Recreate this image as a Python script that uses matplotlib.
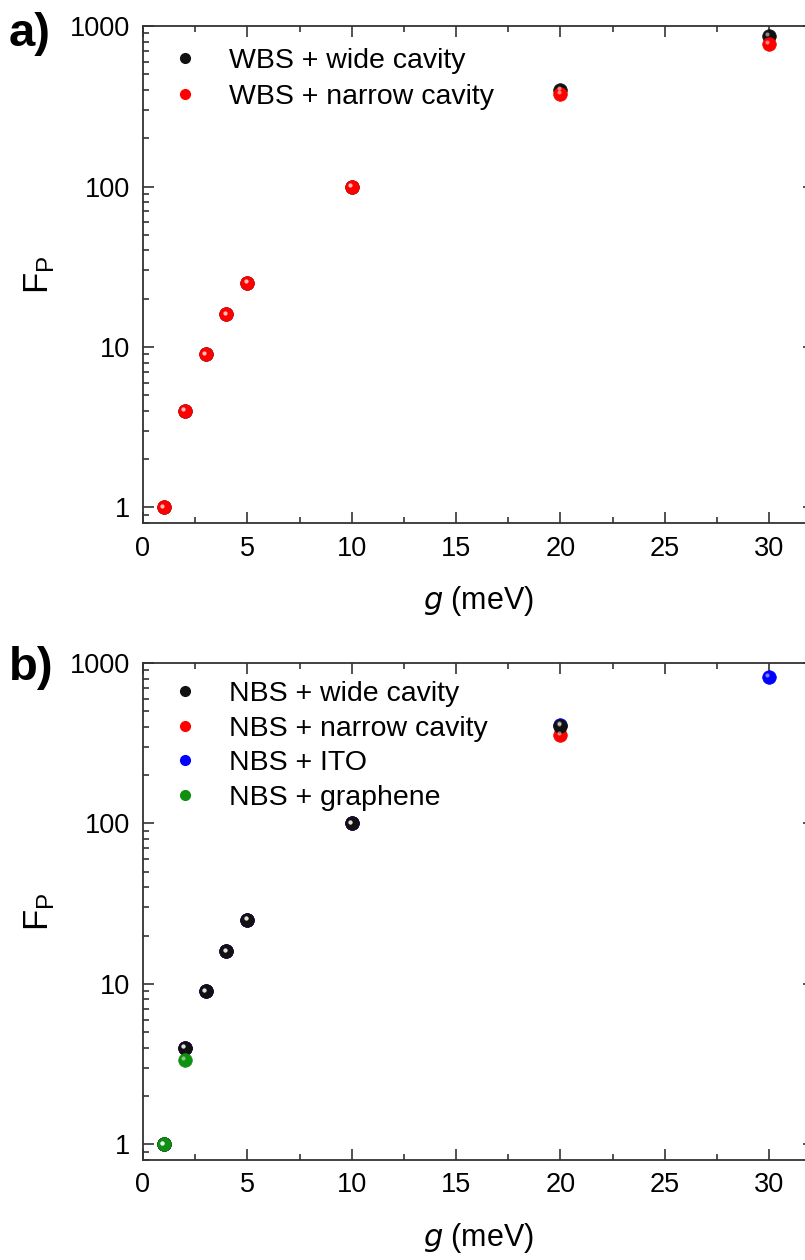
import matplotlib
matplotlib.use("Agg")
import matplotlib.pyplot as plt
import matplotlib.transforms as mtransforms
from matplotlib.ticker import FixedLocator, LogLocator, NullFormatter, MultipleLocator
from matplotlib.lines import Line2D

plt.rcParams["font.family"] = ["Liberation Sans", "DejaVu Sans"]

# panel a: WBS
g_a_wide = [1, 2, 3, 4, 5, 10, 20, 30]
fp_a_wide = [1, 4, 9, 16, 25, 100, 400, 870]
g_a_narrow = [1, 2, 3, 4, 5, 10, 20, 30]
fp_a_narrow = [1, 4, 9, 16, 25, 100, 378, 773]

# panel b: NBS
g_b_wide = [1, 2, 3, 4, 5, 10, 20]
fp_b_wide = [1, 4, 9, 16, 25, 100, 405]
g_b_narrow = [1, 2, 3, 4, 5, 10, 20]
fp_b_narrow = [1, 4, 9, 16, 25, 100, 358]
g_b_ito = [1, 2, 3, 4, 5, 10, 20, 30]
fp_b_ito = [1, 4, 9, 16, 25, 100, 412, 819]
g_b_graphene = [1, 2]
fp_b_graphene = [1, 3.36]

labels_a = ["WBS + wide cavity", "WBS + narrow cavity"]
labels_b = ["NBS + wide cavity", "NBS + narrow cavity", "NBS + ITO", "NBS + graphene"]
ytick_vals = [1, 10, 100, 1000]
ytick_labels = ["1", "10", "100", "1000"]
xtick_vals = [0, 5, 10, 15, 20, 25, 30]

BLACK = "#111111"
RED = "#ff0000"
BLUE = "#0000ff"
GREEN = "#109010"

fig = plt.figure(figsize=(8.05, 12.6), dpi=100)
ax_a = fig.add_axes([0.1776, 0.5849, 0.8333, 0.3944])
ax_b = fig.add_axes([0.1776, 0.0794, 0.8333, 0.3944])


def balls(ax, x, y, color, size=9.8):
    # shaded sphere look: base dot plus a small highlight
    ax.plot(x, y, "o", ms=size, color=color, mec=color, mew=0.5, ls="none", zorder=3)
    hl = ax.transData + mtransforms.ScaledTranslation(-1.2 / 72, 1.2 / 72, fig.dpi_scale_trans)
    ax.plot(x, y, "o", ms=size * 0.3, color="white", alpha=0.5, mew=0,
            ls="none", transform=hl, zorder=4)


def style(ax):
    ax.set_yscale("log")
    ax.set_xlim(0, 32.14)
    ax.set_ylim(0.8, 1000)
    ax.xaxis.set_major_locator(FixedLocator(xtick_vals))
    ax.xaxis.set_minor_locator(MultipleLocator(2.5))
    ax.yaxis.set_major_locator(FixedLocator(ytick_vals))
    ax.yaxis.set_minor_locator(LogLocator(base=10, subs=range(2, 10)))
    ax.yaxis.set_minor_formatter(NullFormatter())
    ax.set_yticklabels(ytick_labels)
    ax.tick_params(which="both", direction="in", top=True, right=True,
                   labelsize=19.5, width=1.2, color="#333333")
    ax.tick_params(which="major", length=8, pad=9)
    ax.tick_params(which="minor", length=4)
    for s in ax.spines.values():
        s.set_linewidth(1.3)
        s.set_color("#333333")
    ax.set_xlabel("$g$ (meV)", fontsize=22, labelpad=16)
    ax.set_ylabel(r"F$_\mathregular{P}$", fontsize=25, labelpad=10)


def handle(color):
    return Line2D([], [], marker="o", ls="none", color=color, ms=7)


# panel a
balls(ax_a, g_a_wide, fp_a_wide, BLACK)
balls(ax_a, g_a_narrow, fp_a_narrow, RED)
style(ax_a)
ax_a.legend([handle(BLACK), handle(RED)], labels_a, loc="upper left",
            bbox_to_anchor=(-0.018, 1.008), frameon=False, fontsize=20.5,
            handletextpad=0.55, labelspacing=0.37)
ax_a.text(-0.2, 0.985, "a)", transform=ax_a.transAxes, fontsize=34,
          fontweight="bold", va="center", ha="left")

# panel b
balls(ax_b, g_b_narrow, fp_b_narrow, RED)
balls(ax_b, g_b_ito, fp_b_ito, BLUE)
balls(ax_b, g_b_wide, fp_b_wide, BLACK)
balls(ax_b, g_b_graphene, fp_b_graphene, GREEN)
style(ax_b)
ax_b.legend([handle(BLACK), handle(RED), handle(BLUE), handle(GREEN)], labels_b,
            loc="upper left", bbox_to_anchor=(-0.018, 1.015), frameon=False,
            fontsize=20.5, handletextpad=0.55, labelspacing=0.3)
ax_b.text(-0.2, 0.99, "b)", transform=ax_b.transAxes, fontsize=34,
          fontweight="bold", va="center", ha="left")

fig.savefig("out.png", dpi=100)
